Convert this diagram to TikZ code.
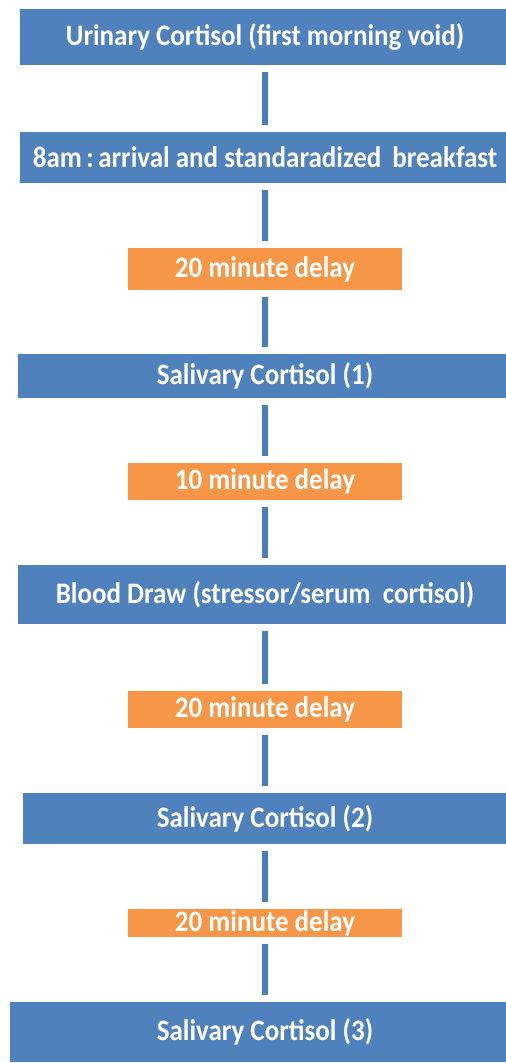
\documentclass[tikz,border=0pt]{standalone}
\usepackage{fontspec}
\usepackage{graphicx}
\setmainfont{Carlito}
\definecolor{boxblue}{HTML}{4F81BD}
\definecolor{boxorange}{HTML}{F79646}
\definecolor{linkblue}{HTML}{4A7EBB}
\newcommand\tallt[1]{\scalebox{1}[1.1]{#1}}
\begin{document}
\begin{tikzpicture}[x=1pt,y=-1pt,
  boxtext/.style={text=white, font=\bfseries\fontsize{27}{31}\selectfont, inner sep=0pt, align=center},
  bluebox/.style={boxtext, fill=boxblue},
  delaybox/.style={boxtext, fill=boxorange, minimum width=274pt},
  conn/.style={draw=linkblue, line width=6pt, shorten <=7pt, shorten >=7pt}]
\useasboundingbox (0,0) rectangle (506,1063);
\fill[white] (0,0) rectangle (506,1063);
\node[bluebox, minimum width=490pt, minimum height=56pt] (b1) at (265,37) {\tallt{Urinary Cortisol (first morning void)}};
\node[bluebox, minimum width=490pt, minimum height=51pt] (b2) at (265,157.5) {\tallt{8am\,:\,arrival and standaradized\hspace{11pt}breakfast}};
\node[delaybox, minimum height=42pt] (d1) at (265,269) {\tallt{20 minute delay}};
\node[bluebox, minimum width=494pt, minimum height=44pt] (b3) at (265,376) {\tallt{Salivary Cortisol (1)}};
\node[delaybox, minimum height=37pt] (d2) at (265,481.5) {\tallt{10 minute delay}};
\node[bluebox, minimum width=494pt, minimum height=59pt] (b4) at (265,594.5) {\tallt{Blood Draw (stressor/serum\ \ cortisol)}};
\node[delaybox, minimum height=37pt] (d3) at (265,709.5) {\tallt{20 minute delay}};
\node[bluebox, minimum width=484pt, minimum height=51pt] (b5) at (265,818.5) {\tallt{Salivary Cortisol (2)}};
\node[delaybox, minimum height=28pt] (d4) at (265,923) {\tallt{20 minute delay}};
\node[bluebox, minimum width=510pt, minimum height=60pt] (b6) at (265,1032) {\tallt{Salivary Cortisol (3)}};
\draw[conn] (b1) -- (b2);
\draw[conn] (b2) -- (d1);
\draw[conn] (d1) -- (b3);
\draw[conn] (b3) -- (d2);
\draw[conn] (d2) -- (b4);
\draw[conn] (b4) -- (d3);
\draw[conn] (d3) -- (b5);
\draw[conn] (b5) -- (d4);
\draw[conn] (d4) -- (b6);
\end{tikzpicture}
\end{document}
